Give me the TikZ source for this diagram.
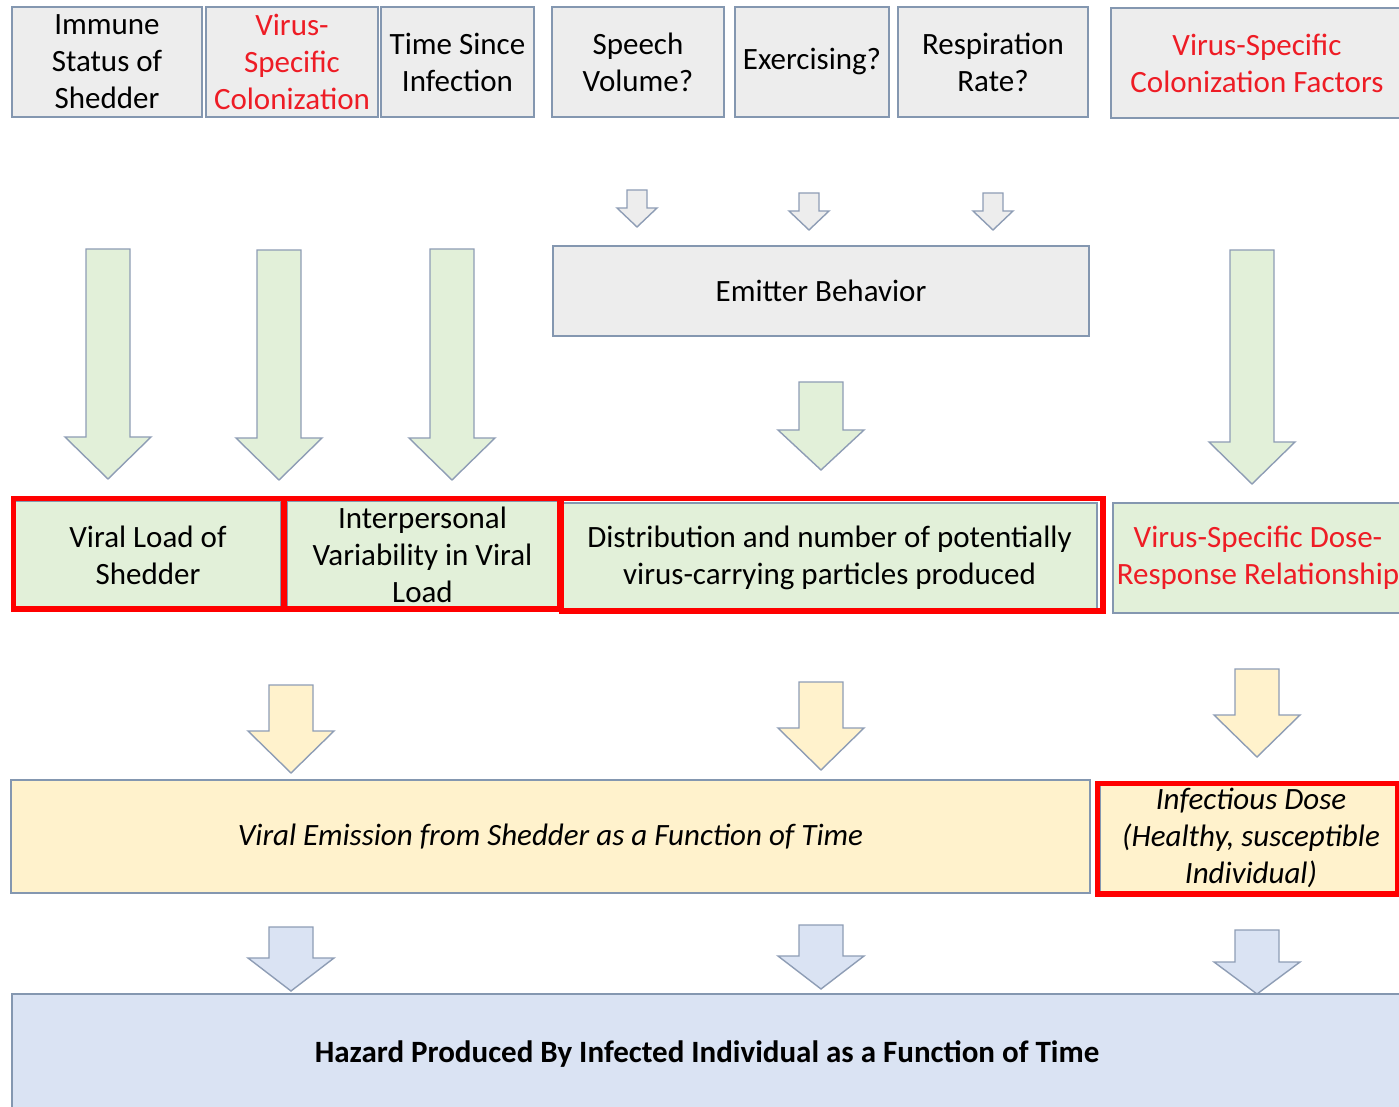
\documentclass[tikz,border=0pt]{standalone}
\usepackage{fontspec}
\setmainfont{Carlito}
\usepackage{tikz}
\usetikzlibrary{calc}

\definecolor{boxline}{HTML}{8497B0}
\definecolor{arrowline}{HTML}{8E9DB5}
\definecolor{grayfill}{HTML}{EDEDED}
\definecolor{greenfill}{HTML}{E2F0D9}
\definecolor{yellowfill}{HTML}{FFF2CC}
\definecolor{bluefill}{HTML}{DAE3F3}
\definecolor{frame}{HTML}{FF0000}
\definecolor{redtext}{HTML}{EE1C25}

% block arrow: style, x, top, head start, tip, half shaft, half head
\newcommand{\blockarrow}[7]{%
  \draw[#1] (#2-#6,#3) -- (#2+#6,#3) -- (#2+#6,#4) -- (#2+#7,#4) -- (#2,#5)
    -- (#2-#7,#4) -- (#2-#6,#4) -- cycle;}

\begin{document}
\begin{tikzpicture}[x=0.5pt,y=-0.5pt,
    box/.style={draw=boxline, line width=0.7pt, inner sep=0pt, align=center,
      font=\fontsize{15.5}{18.5}\selectfont},
    graybox/.style={box, fill=grayfill},
    greenbox/.style={box, fill=greenfill},
    yellowbox/.style={box, fill=yellowfill},
    bluebox/.style={box, fill=bluefill},
    redframe/.style={draw=frame, line width=2.8pt},
    garrow/.style={draw=arrowline, line width=0.7pt, fill=grayfill},
    grarrow/.style={draw=arrowline, line width=0.7pt, fill=greenfill},
    yarrow/.style={draw=arrowline, line width=0.7pt, fill=yellowfill},
    barrow/.style={draw=arrowline, line width=0.7pt, fill=bluefill}]

    \useasboundingbox (0,0) rectangle (1399,1107);
    \clip (0,0) rectangle (1399,1107);

    % top row
    \node[graybox, minimum width=95pt, minimum height=55pt] (immune) at (107,62) {Immune\\Status of\\Shedder};
    \node[graybox, minimum width=86pt, minimum height=55pt, text=redtext] (viruscol) at (292,62) {Virus-\\Specific\\Colonization};
    \node[graybox, minimum width=76.5pt, minimum height=55pt] (since) at (457.5,62) {Time Since\\Infection};
    \node[graybox, minimum width=86pt, minimum height=55pt] (speech) at (638,62) {Speech\\Volume?};
    \node[graybox, minimum width=77pt, minimum height=55pt] (exercise) at (812,62) {Exercising?};
    \node[graybox, minimum width=95pt, minimum height=55pt] (resp) at (993,62) {Respiration\\Rate?};
    \node[graybox, minimum width=146pt, minimum height=55pt, text=redtext] (colfactors) at (1257,63) {Virus-Specific\\Colonization Factors};

    \blockarrow{garrow}{637}{190}{208}{227}{10}{20}
    \blockarrow{garrow}{809}{193}{211}{230}{10}{20}
    \blockarrow{garrow}{993}{193}{211}{230}{10}{20}

    \node[graybox, minimum width=268pt, minimum height=45pt] (emitter) at (821,291) {Emitter Behavior};

    \blockarrow{grarrow}{108}{249}{437}{479}{22}{43}
    \blockarrow{grarrow}{279}{250}{438}{480}{22}{43}
    \blockarrow{grarrow}{452}{249}{438}{480}{22}{43}
    \blockarrow{grarrow}{821}{382}{430}{470}{22}{43}
    \blockarrow{grarrow}{1252}{250}{442}{484}{22}{43}

    % green row
    \node[greenbox, minimum width=133pt, minimum height=54pt] (vload) at (148,555) {Viral Load of\\Shedder};
    \node[greenbox, minimum width=135.5pt, minimum height=54pt] (interp) at (422.5,555) {Interpersonal\\Variability in Viral\\Load};
    \node[greenbox, minimum width=267.5pt, minimum height=55pt] (particles) at (829.5,558) {Distribution and number of potentially\\virus-carrying particles produced};
    \node[greenbox, minimum width=145pt, minimum height=55pt, text=redtext] (doseresp) at (1258,558) {Virus-Specific Dose-\\Response Relationship};

    \draw[redframe] ([shift={(-1,-2)}]vload.north west) rectangle ([shift={(2,-1)}]vload.south east);
    \draw[redframe] ([shift={(-2,-2)}]interp.north west) rectangle ([shift={(1,-1)}]interp.south east);
    \draw[redframe] ([shift={(0,-4)}]particles.north west) rectangle ([shift={(5,-3)}]particles.south east);

    \blockarrow{yarrow}{291}{685}{731}{773}{22}{43}
    \blockarrow{yarrow}{821}{682}{728}{770}{22}{43}
    \blockarrow{yarrow}{1257}{669}{715}{757}{22}{43}

    % yellow row
    \node[yellowbox, minimum width=539.5pt, minimum height=56.5pt, font=\fontsize{15.5}{18.5}\selectfont\itshape] (emission) at (550.5,836.5) {Viral Emission from Shedder as a Function of Time};
    \node[yellowbox, minimum width=151pt, minimum height=55pt, font=\fontsize{15.5}{18.5}\selectfont\itshape] (infdose) at (1251,838) {Infectious Dose\\(Healthy, susceptible\\Individual)};
    \draw[redframe] ([shift={(-2,1)}]infdose.north west) rectangle ([shift={(-5,0)}]infdose.south east);

    \blockarrow{barrow}{291}{927}{958}{991}{22}{43}
    \blockarrow{barrow}{821}{925}{956}{989}{22}{43}
    \blockarrow{barrow}{1257}{930}{962}{994}{22}{43}

    \node[bluebox, minimum width=695pt, minimum height=60pt, font=\fontsize{15.5}{18.5}\selectfont\bfseries] (hazard) at (707,1054) {Hazard Produced By Infected Individual as a Function of Time};

\end{tikzpicture}
\end{document}
